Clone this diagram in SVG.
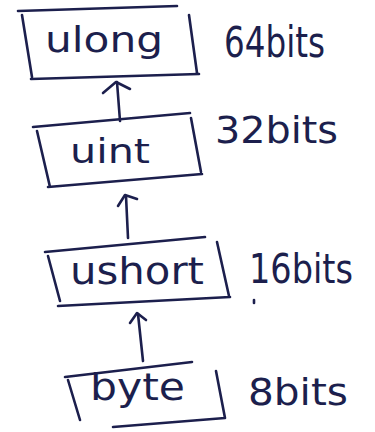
<svg xmlns="http://www.w3.org/2000/svg" width="375" height="432" viewBox="0 0 375 432">
<style>
.ink{fill:none;stroke:#1c1f4d;stroke-width:2.6;stroke-linecap:round;stroke-linejoin:round}
.lbl{font-family:"DejaVu Sans","Liberation Sans",sans-serif;fill:#1c1f4d}
.bits{font-family:"DejaVu Sans","Liberation Sans",sans-serif;fill:#1c1f4d}
</style>
<rect width="375" height="432" fill="#ffffff"/>
<g id="connectors">
<path class="ink" d="M120 121 L117 82"/>
<path class="ink" d="M103 93 L116 82 L130 89"/>
<path class="ink" d="M128 238 L126 196"/>
<path class="ink" d="M118 206 L125 195 L137 199"/>
<path class="ink" d="M143 361 L138 314"/>
<path class="ink" d="M130 323 L137 313 L146 320"/>
</g>
<g id="node-ulong">
<path class="ink" d="M18 11 L177 6 M22 15 L32 77 M31 79 L199 74 M189 15 L197 73"/>
<text class="lbl" x="45" y="52" font-size="36" textLength="118" lengthAdjust="spacingAndGlyphs">ulong</text>
<text class="bits" x="224" y="57" font-size="42" textLength="101" lengthAdjust="spacingAndGlyphs">64bits</text>
</g>
<g id="node-uint">
<path class="ink" d="M33 127 L190 113 M37 131 L50 187 M48 187 L202 174 M191 118 L201 172"/>
<text class="lbl" x="70" y="163" font-size="34" textLength="80" lengthAdjust="spacingAndGlyphs">uint</text>
<text class="bits" x="215" y="143" font-size="38" textLength="123" lengthAdjust="spacingAndGlyphs">32bits</text>
</g>
<g id="node-ushort">
<path class="ink" d="M45 252 L205 237 M48 256 L60 301 M58 306 L230 297 M217 242 L229 296"/>
<text class="lbl" x="70" y="284" font-size="38" textLength="134" lengthAdjust="spacingAndGlyphs">ushort</text>
<text class="bits" x="249" y="283" font-size="40" textLength="104" lengthAdjust="spacingAndGlyphs">16bits</text>
<path class="ink" d="M254 300 L254 303"/>
</g>
<g id="node-byte">
<path class="ink" d="M65 377 L192 362 M68 380 L80 420 M113 427 L225 418 M216 371 L225 418"/>
<text class="lbl" x="90" y="400" font-size="38" textLength="95" lengthAdjust="spacingAndGlyphs">byte</text>
<text class="bits" x="248" y="405" font-size="38" textLength="100" lengthAdjust="spacingAndGlyphs">8bits</text>
</g>
</svg>
